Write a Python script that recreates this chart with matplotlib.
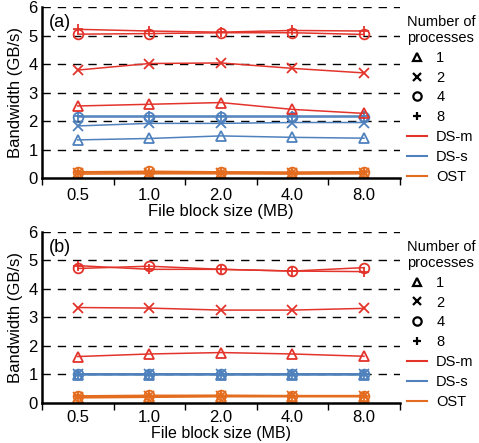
import matplotlib
matplotlib.use('Agg')
import matplotlib.pyplot as plt
from matplotlib.lines import Line2D

plt.rcParams['font.family'] = ['Liberation Sans', 'DejaVu Sans']

# x categories (file block size, MB)
block_sizes = ['0.5', '1.0', '2.0', '4.0', '8.0']
procs = ['1', '2', '4', '8']
markers = {'1': '^', '2': 'x', '4': 'o', '8': '+'}

# panel (a) bandwidth values (GB/s)
a_dsm = {
    '1': [2.53, 2.59, 2.65, 2.41, 2.27],
    '2': [3.79, 4.02, 4.04, 3.85, 3.69],
    '4': [5.05, 5.07, 5.10, 5.10, 5.04],
    '8': [5.22, 5.16, 5.12, 5.18, 5.16],
}
a_dss = {
    '1': [1.34, 1.39, 1.48, 1.43, 1.40],
    '2': [1.83, 1.92, 1.92, 1.95, 1.95],
    '4': [2.14, 2.14, 2.14, 2.14, 2.14],
    '8': [2.18, 2.18, 2.18, 2.18, 2.18],
}
a_ost = {
    '1': [0.14, 0.15, 0.15, 0.14, 0.15],
    '2': [0.18, 0.19, 0.18, 0.17, 0.18],
    '4': [0.22, 0.24, 0.22, 0.21, 0.22],
    '8': [0.20, 0.22, 0.20, 0.19, 0.21],
}

# panel (b) bandwidth values (GB/s)
b_dsm = {
    '1': [1.63, 1.72, 1.77, 1.72, 1.64],
    '2': [3.35, 3.33, 3.26, 3.26, 3.32],
    '4': [4.72, 4.80, 4.69, 4.63, 4.75],
    '8': [4.82, 4.69, 4.69, 4.63, 4.61],
}
b_dss = {
    '1': [0.99, 0.99, 0.99, 0.99, 0.99],
    '2': [1.00, 1.00, 1.00, 1.00, 1.00],
    '4': [1.01, 1.01, 1.01, 1.01, 1.01],
    '8': [1.00, 1.00, 1.00, 1.00, 1.00],
}
b_ost = {
    '1': [0.18, 0.20, 0.22, 0.22, 0.22],
    '2': [0.21, 0.23, 0.24, 0.24, 0.24],
    '4': [0.25, 0.27, 0.27, 0.26, 0.26],
    '8': [0.23, 0.25, 0.26, 0.25, 0.25],
}

RED = '#e3342c'
BLUE = '#4f81bd'
ORANGE = '#e46c1e'

fig = plt.figure(figsize=(4.79, 4.43), dpi=100)
ax_a = fig.add_axes([0.0877, 0.598, 0.747, 0.386])
ax_b = fig.add_axes([0.0877, 0.0903, 0.747, 0.386])


def draw(ax, dsm, dss, ost, tag, tickpad, xlabelpad, xlabelsize):
    x = range(len(block_sizes))
    for data, col in [(ost, ORANGE), (dss, BLUE), (dsm, RED)]:
        for p in procs:
            m = markers[p]
            ax.plot(x, data[p], color=col, lw=1.1, marker=m, ms=7,
                    mfc='none' if m in '^o' else col, mec=col, mew=1.3)
    ax.set_xlim(-0.5, 4.5)
    ax.set_ylim(0, 6)
    ax.set_yticks(range(7))
    for y in range(1, 7):
        ax.axhline(y, color='black', lw=1, ls=(0, (6, 5)), zorder=0)
    ax.set_xticks([i - 0.5 for i in range(6)])
    ax.set_xticklabels([])
    ax.set_xticks(list(x), minor=True)
    ax.set_xticklabels(block_sizes, minor=True, fontsize=12)
    ax.tick_params(axis='x', which='major', direction='out', length=5, width=1)
    ax.tick_params(axis='x', which='minor', length=0, pad=tickpad)
    ax.tick_params(axis='y', length=0, labelsize=12, pad=3)
    for s in ['top', 'right']:
        ax.spines[s].set_visible(False)
    ax.spines['left'].set_linewidth(1.8)
    ax.spines['bottom'].set_linewidth(1.8)
    ax.set_ylabel('Bandwidth (GB/s)', fontsize=12, labelpad=4)
    ax.set_xlabel('File block size (MB)', fontsize=xlabelsize,
                  labelpad=xlabelpad)
    ax.text(0.02, 0.96, tag, transform=ax.transAxes, fontsize=13, va='top')

    handles = [Line2D([], [], color='black', marker=markers[p], ls='none',
                      ms=6, mfc='none' if markers[p] in '^o' else 'black',
                      mew=1.6) for p in procs]
    handles += [Line2D([], [], color=c, lw=1.5) for c in [RED, BLUE, ORANGE]]
    labels = procs + ['DS-m', 'DS-s', 'OST']
    leg = ax.legend(handles, labels, title='Number of\nprocesses',
                    loc='upper left', bbox_to_anchor=(1.02, 0.955),
                    frameon=False, fontsize=10.5, title_fontsize=10.5,
                    handlelength=1.4, handletextpad=0.6, labelspacing=0.4,
                    borderaxespad=0, borderpad=0)
    leg._legend_box.align = 'left'


draw(ax_a, a_dsm, a_dss, a_ost, '(a)', 7, 1, 12)
draw(ax_b, b_dsm, b_dss, b_ost, '(b)', 5, 0.5, 11.5)

fig.savefig('out.png', dpi=100)
